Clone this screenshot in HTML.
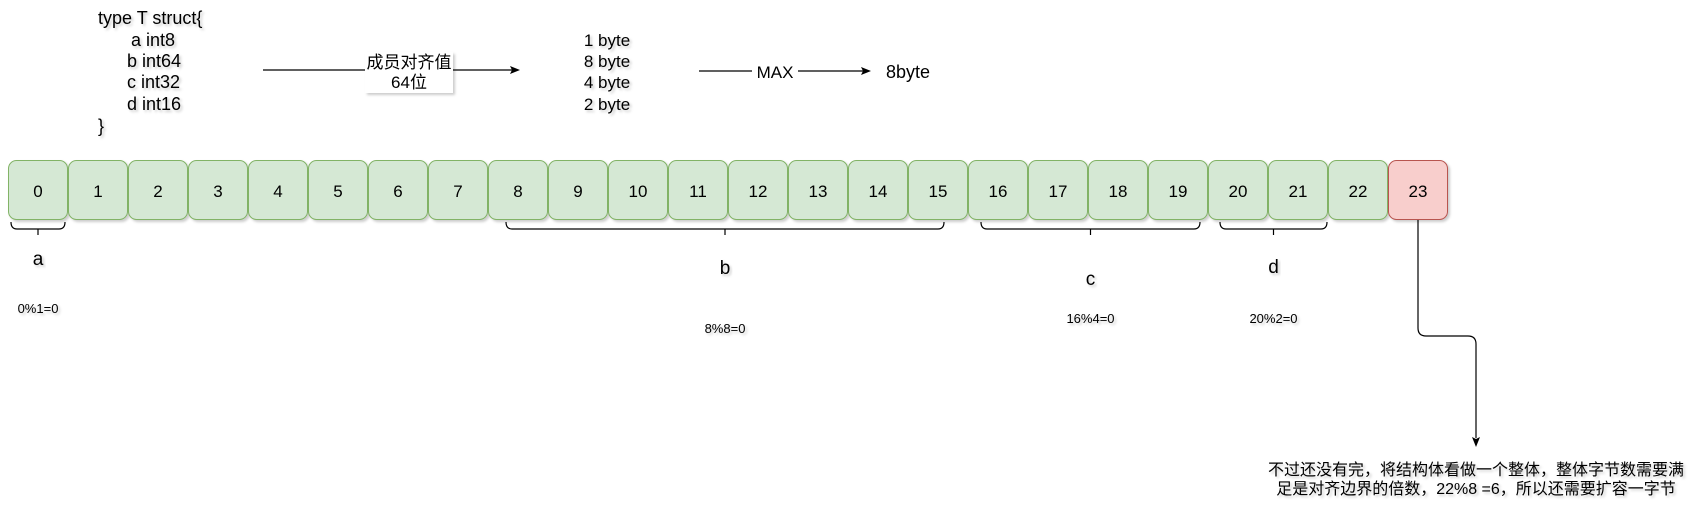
<!DOCTYPE html>
<html><head><meta charset="utf-8"><style>
html,body{margin:0;padding:0;background:#fff;width:1700px;height:520px;overflow:hidden}
svg{display:block}
text{font-family:"Liberation Sans","Noto Sans CJK SC",sans-serif;fill:#000}
</style></head><body>
<svg id="s" width="1700" height="520" viewBox="0 0 1700 520">
<defs><filter id="sh" x="-10%" y="-10%" width="130%" height="130%"><feDropShadow dx="2" dy="2" stdDeviation="1.2" flood-color="#000" flood-opacity="0.2"/></filter></defs>
<g font-size="18" filter="url(#sh)">
<text x="98" y="24">type T struct{</text>
<text x="131" y="46">a int8</text>
<text x="127" y="67">b int64</text>
<text x="127" y="88">c int32</text>
<text x="127" y="110">d int16</text>
<text x="98" y="132">}</text>
</g>
<g>
<line x1="263" y1="70" x2="512" y2="70" stroke="#000" stroke-width="1.2"/>
<path d="M520 70 L510 66 L512 70 L510 74 Z" fill="#000"/>
<rect x="365" y="52" width="88" height="41" fill="#fff" filter="url(#sh)"/>
<text x="409" y="68" font-size="17" text-anchor="middle">成员对齐值</text>
<text x="409" y="88" font-size="17" text-anchor="middle">64位</text>
</g>
<g font-size="17" text-anchor="middle" filter="url(#sh)">
<text x="607" y="46">1 byte</text>
<text x="607" y="67">8 byte</text>
<text x="607" y="88">4 byte</text>
<text x="607" y="110">2 byte</text>
</g>
<g>
<line x1="699" y1="71" x2="863" y2="71" stroke="#000" stroke-width="1.2"/>
<path d="M871 71 L861 67 L863 71 L861 75 Z" fill="#000"/>
<rect x="752" y="62" width="46" height="20" fill="#fff"/>
<text x="775" y="78" font-size="17" text-anchor="middle">MAX</text>
<text x="908" y="78" font-size="18" text-anchor="middle">8byte</text>
</g>
<g id="cells"></g>
<g id="braces"></g>
<g>
<path d="M1418 220 V328 Q1418 336 1426 336 H1468 Q1476 336 1476 344 V438" fill="none" stroke="#000" stroke-width="1.2"/>
<path d="M1476 447 L1472 437 L1476 439 L1480 437 Z" fill="#000"/>
<text x="1476" y="475" font-size="16" text-anchor="middle" filter="url(#sh)">不过还没有完，将结构体看做一个整体，整体字节数需要满</text>
<text x="1476" y="494" font-size="16" text-anchor="middle" filter="url(#sh)">足是对齐边界的倍数，22%8 =6，所以还需要扩容一字节</text>
</g>
</svg>
<script>
const cellLabels=[0,1,2,3,4,5,6,7,8,9,10,11,12,13,14,15,16,17,18,19,20,21,22,23];
const paddedCells=[23];
const fieldNames=['a','b','c','d'];
const fieldStart=[0,8,16,20];
const fieldEnd=[0,15,19,21];
const fieldNotes=['0%1=0','8%8=0','16%4=0','20%2=0'];
const NS='http://www.w3.org/2000/svg';
const cx=i=>8+60*i;
const insetL=[3,18,13,12];
const insetR=[3,24,8,1];
const cells=document.getElementById('cells');
cellLabels.forEach((v,i)=>{
 const pad=paddedCells.includes(v);
 const r=document.createElementNS(NS,'rect');
 r.setAttribute('x',cx(i)+0.5);r.setAttribute('y',160.5);r.setAttribute('width',59);r.setAttribute('height',59);
 r.setAttribute('rx',8);r.setAttribute('fill',pad?'#f8cecc':'#d5e8d4');r.setAttribute('stroke',pad?'#b85450':'#82b366');
 r.setAttribute('filter','url(#sh)');
 
 
 cells.appendChild(r);
 const t=document.createElementNS(NS,'text');
 t.setAttribute('x',cx(i)+30);t.setAttribute('y',197);t.setAttribute('text-anchor','middle');t.setAttribute('font-size','17');
 t.textContent=v;
 
 
 cells.appendChild(t);
});
const br=document.getElementById('braces');
const labelY=[259,268,279,267];
const noteY=[308,328,318,318];
fieldNames.forEach((n,k)=>{
 const x1=cx(fieldStart[k])+insetL[k],x2=cx(fieldEnd[k])+60-insetR[k],m=(x1+x2)/2;
 const p=document.createElementNS(NS,'path');
 p.setAttribute('d',`M${x1} 222 Q${x1} 229 ${x1+6} 229 H${x2-6} Q${x2} 229 ${x2} 222 M${m} 229 V235`);
 p.setAttribute('fill','none');p.setAttribute('stroke','#000');p.setAttribute('stroke-width','1.2');
 
 
 br.appendChild(p);
 const t=document.createElementNS(NS,'text');
 t.setAttribute('x',m);t.setAttribute('y',labelY[k]+6);t.setAttribute('text-anchor','middle');t.setAttribute('font-size','19');t.setAttribute('filter','url(#sh)');
 t.textContent=n;
 
 
 br.appendChild(t);
 const u=document.createElementNS(NS,'text');
 u.setAttribute('x',m);u.setAttribute('y',noteY[k]+5);u.setAttribute('text-anchor','middle');u.setAttribute('font-size','13');u.setAttribute('filter','url(#sh)');
 u.textContent=fieldNotes[k];
 
 
 br.appendChild(u);
});
</script>
</body></html>
